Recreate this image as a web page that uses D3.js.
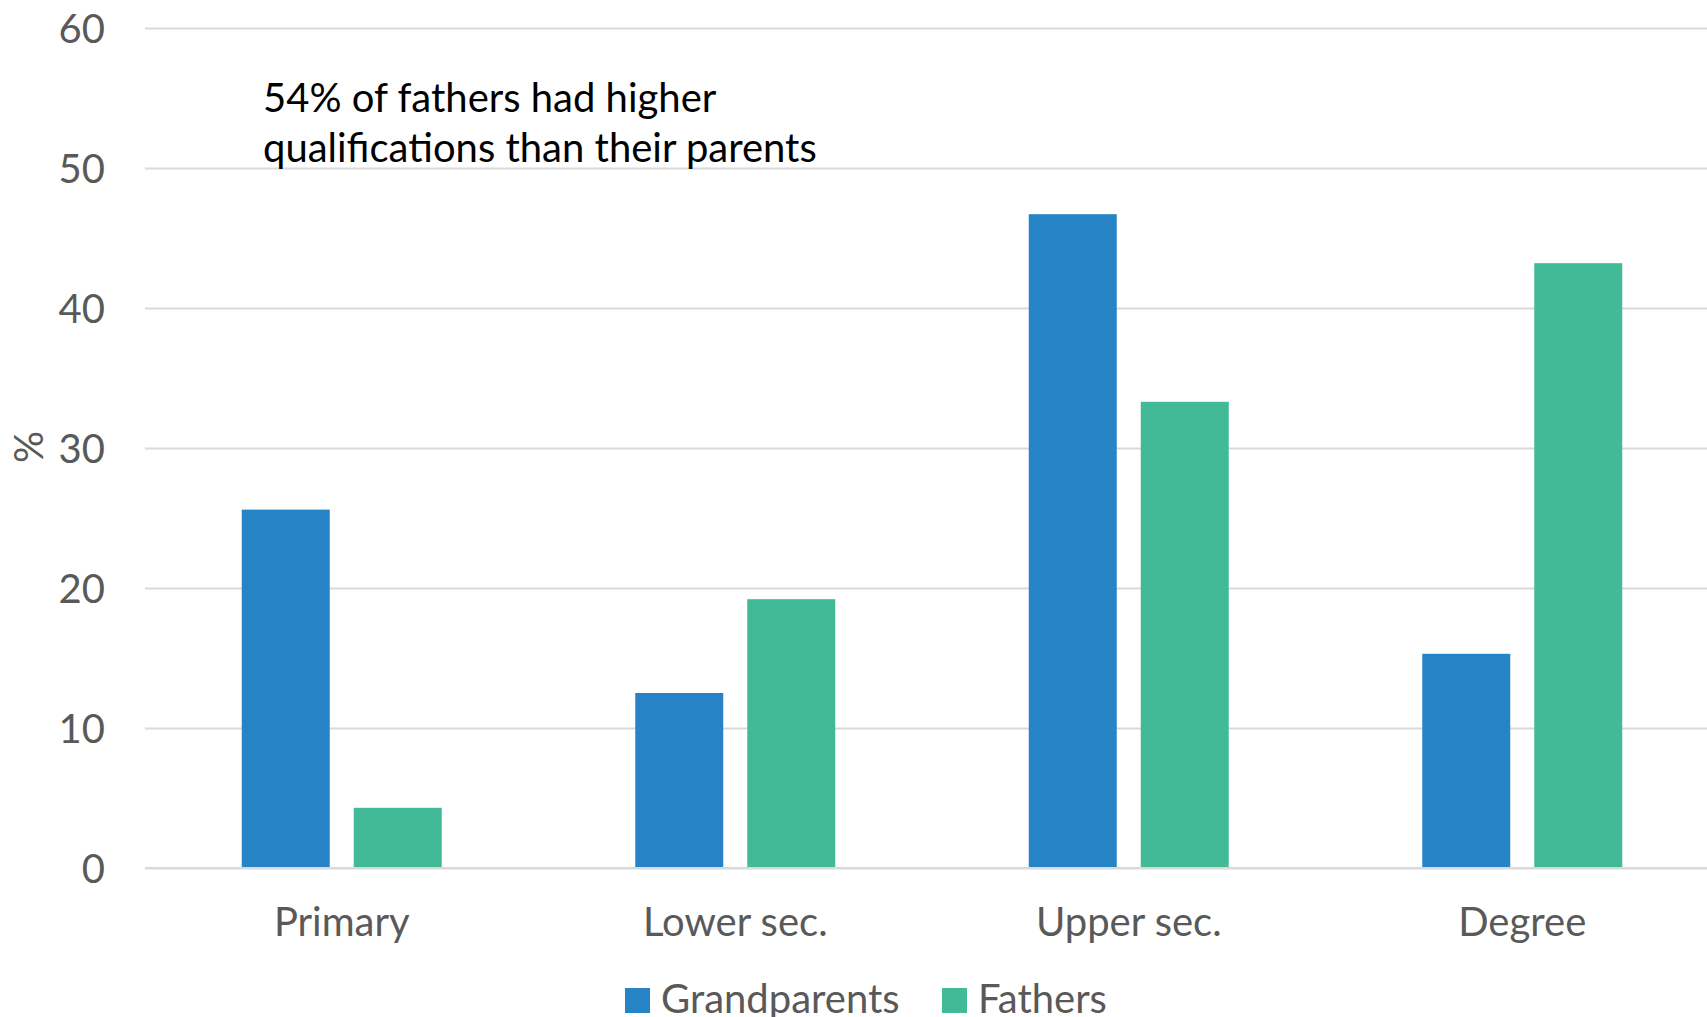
<!DOCTYPE html>
<html>
<head>
<meta charset="utf-8">
<script src="https://cdn.jsdelivr.net/npm/d3@7"></script>
<style>
  html, body { margin: 0; padding: 0; background: #fff; }
  svg { display: block; }
</style>
</head>
<body>
<svg id="chart" width="1707" height="1017"></svg>
<script>
const categories = ["Primary", "Lower sec.", "Upper sec.", "Degree"];
const seriesNames = ["Grandparents", "Fathers"];
const grandparents = [25.6, 12.5, 46.7, 15.3];
const fathers = [4.3, 19.2, 33.3, 43.2];
const yTicks = [0, 10, 20, 30, 40, 50, 60];
const annotationLines = ["54% of fathers had higher", "qualifications than their parents"];
const yLabel = "%";
const colors = ["#2683C6", "#42BA97"];

const FONT = "Lato, 'Open Sans', sans-serif";
const svg = d3.select("#chart");
const plot = { left: 145, right: 1719, gridRight: 1707, top: 28, bottom: 868 };

const x = d3.scaleBand().domain(categories).range([plot.left, plot.right]).padding(0);
const y = d3.scaleLinear().domain([0, 60]).range([plot.bottom, plot.top]);
const barW = 88, gap = 24;
const pairW = barW * 2 + gap;
const x1 = d3.scaleBand().domain(seriesNames).range([0, pairW]).paddingInner(gap / (barW + gap)).paddingOuter(0);

// gridlines + y tick labels
const yAxis = d3.axisLeft(y).tickValues(yTicks).tickSize(-(plot.gridRight - plot.left)).tickPadding(40).tickFormat(d3.format("d"));
const gAxis = svg.append("g").attr("transform", `translate(${plot.left},0)`).call(yAxis);
gAxis.select(".domain").remove();
gAxis.selectAll(".tick line").attr("stroke", "#D9D9D9").attr("stroke-width", 2);
gAxis.selectAll(".tick text")
  .attr("fill", "#595959").attr("font-family", FONT).attr("font-size", 40)
  .attr("dy", "0.35em");

// bars
const data = categories.map((c, i) => ({ cat: c, vals: [grandparents[i], fathers[i]] }));
const groups = svg.append("g").selectAll("g").data(data).join("g")
  .attr("transform", d => `translate(${x(d.cat) + (x.bandwidth() - pairW) / 2},0)`);
groups.selectAll("rect").data(d => d.vals.map((v, j) => ({ s: seriesNames[j], v, j })))
  .join("rect")
  .attr("x", d => x1(d.s))
  .attr("width", x1.bandwidth())
  .attr("y", d => y(d.v))
  .attr("height", d => y(0) - y(d.v))
  .attr("fill", d => colors[d.j]);

// baseline on top
svg.append("line").attr("x1", plot.left).attr("x2", plot.gridRight).attr("y1", y(0)).attr("y2", y(0))
  .attr("stroke", "#D9D9D9").attr("stroke-width", 2);

// category labels
const xAxis = d3.axisBottom(x).tickSize(0).tickPadding(0);
const gx = svg.append("g").attr("transform", `translate(0,${plot.bottom})`).call(xAxis);
gx.select(".domain").remove();
gx.selectAll(".tick text").attr("fill", "#595959").attr("font-family", FONT).attr("font-size", 40)
  .attr("y", 68).attr("dy", 0);

// y label
svg.append("text").attr("transform", `translate(43,447) rotate(-90)`)
  .attr("text-anchor", "middle").attr("fill", "#595959").attr("font-family", FONT).attr("font-size", 40)
  .text(yLabel);

// annotation
const ann = svg.append("text").attr("x", 263).attr("y", 112).attr("fill", "#000").attr("font-family", FONT).attr("font-size", 40);
ann.selectAll("tspan").data(annotationLines).join("tspan").attr("x", 263).attr("dy", (d, i) => i ? 50 : 0).text(d => d);

// legend
const legendX = [625, 942];
const lg = svg.append("g").selectAll("g").data(seriesNames).join("g")
  .attr("transform", (d, i) => `translate(${legendX[i]},988)`);
lg.append("rect").attr("width", 25).attr("height", 25).attr("fill", (d, i) => colors[i]);
lg.append("text").attr("x", 36).attr("y", 25).attr("fill", "#595959").attr("font-family", FONT).attr("font-size", 40).text(d => d);
</script>
</body>
</html>
